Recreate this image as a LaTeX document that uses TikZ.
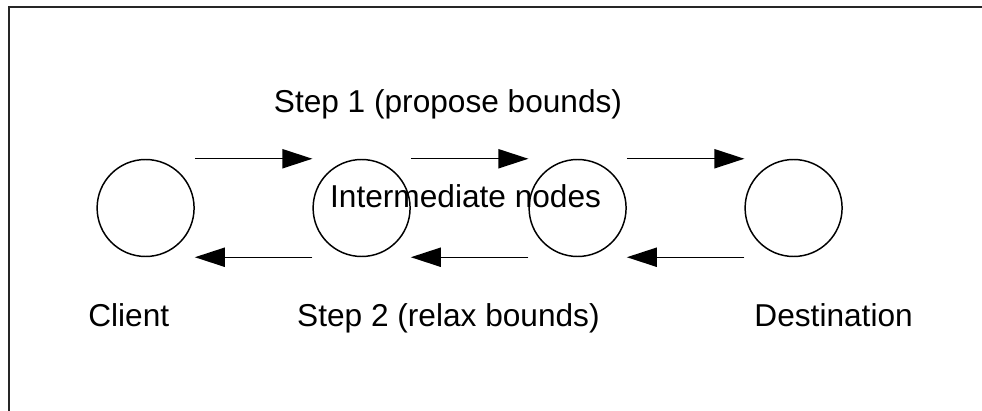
\documentclass[tikz,border=0pt]{standalone}
\usepackage{fontspec}
\setmainfont{Liberation Sans}
\usetikzlibrary{arrows.meta}
\begin{document}
\begin{tikzpicture}[
  hop/.style={circle, draw, line width=1.05pt, minimum size=2.425cm, inner sep=0pt},
  msg/.style={line width=1pt, -{Triangle[length=0.75cm, width=0.48cm]}},
  lbl/.style={anchor=base, inner sep=0pt, font=\fontsize{22.5}{27}\selectfont}
]
\useasboundingbox (0,0) rectangle (24.55,10.275);
\draw [line width=1.4pt, black!85] (0.225,-0.5) -- (0.225,10.1) -- (25,10.1);

\node [hop] (client) at (3.64,5.075) {};
\node [hop] (hopA) at (9.04,5.075) {};
\node [hop] (hopB) at (14.44,5.075) {};
\node [hop] (dest) at (19.84,5.075) {};

\draw [msg] (client.east |- client.north) -- (hopA.west |- hopA.north);
\draw [msg] (hopA.east |- hopA.north) -- (hopB.west |- hopB.north);
\draw [msg] (hopB.east |- hopB.north) -- (dest.west |- dest.north);
\draw [msg] (hopA.west |- hopA.south) -- (client.east |- client.south);
\draw [msg] (hopB.west |- hopB.south) -- (hopA.east |- hopA.south);
\draw [msg] (dest.west |- dest.south) -- (hopB.east |- hopB.south);

\node [lbl] (step1) at (11.2,7.45) {Step 1 (propose bounds)};
\node [lbl] (middle) at (11.64,5.075) {Intermediate nodes};
\node [lbl] (clientlbl) at (3.22,2.1) {Client};
\node [lbl] (step2) at (11.21,2.1) {Step 2 (relax bounds)};
\node [lbl] (destlbl) at (20.84,2.1) {Destination};
\end{tikzpicture}
\end{document}
